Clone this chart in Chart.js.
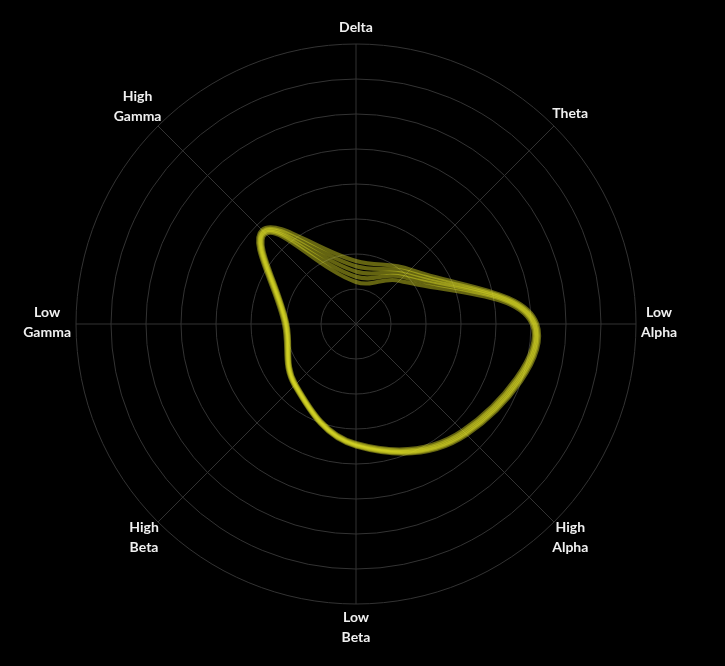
<!DOCTYPE html>
<html>
<head>
<meta charset="utf-8">
<script src="https://cdn.jsdelivr.net/npm/chart.js@4"></script>
<style>
  html, body { margin: 0; padding: 0; background: #000; }
  #wrap { width: 725px; height: 666px; }
</style>
</head>
<body>
<div id="wrap"><canvas id="c" width="725" height="666"></canvas></div>
<script>
const categories = [["Delta"], ["Theta"], ["Low", "Alpha"], ["High", "Alpha"], ["Low", "Beta"], ["High", "Beta"], ["Low", "Gamma"], ["High", "Gamma"]];

const series1 = [18.0, 22.0, 51.8, 44.8, 35.0, 25.0, 20.6, 38.0];
const series2 = [16.5, 21.0, 51.4, 44.4, 34.8, 24.8, 20.3, 37.6];
const series3 = [15.0, 20.0, 51.0, 44.0, 34.6, 24.6, 20.0, 37.2];
const series4 = [13.5, 19.0, 50.6, 43.5, 34.3, 24.4, 19.8, 36.8];
const series5 = [12.0, 17.5, 50.2, 43.0, 34.0, 24.2, 19.6, 36.4];

const scaleMax = 80;
const scaleStep = 10;

const allSeries = [series1, series2, series3, series4, series5];

const datasets = allSeries.map(function (s, i) {
  return {
    label: 'Reading ' + (i + 1),
    data: s,
    borderColor: 'rgba(222, 222, 38, 0.45)',
    backgroundColor: 'rgba(0,0,0,0)',
    borderWidth: 4,
    fill: false,
    tension: 0.4,
    pointRadius: 0,
    pointHoverRadius: 0
  };
});

// Draws the axis labels with every line centred (the library right/left-aligns multi-line labels).
const centredPointLabels = {
  id: 'centredPointLabels',
  afterDraw(chart) {
    const scale = chart.scales.r;
    const ctx = chart.ctx;
    const labels = chart.data.labels;
    const fontSize = 14;
    const lineH = 20;
    const gap = 5;
    const baselineShift = -2;
    ctx.save();
    ctx.font = 'bold ' + fontSize + 'px Lato';
    ctx.fillStyle = '#f0f0f0';
    ctx.textAlign = 'center';
    ctx.textBaseline = 'middle';
    labels.forEach(function (lines, i) {
      const angle = scale.getIndexAngle(i) - Math.PI / 2;
      const w = Math.max.apply(null, lines.map(function (t) { return ctx.measureText(t).width; }));
      const h = lines.length * lineH;
      const p = scale.getPointPosition(i, scale.drawingArea + gap);
      const cx = p.x + Math.cos(angle) * w / 2;
      const cy = p.y + Math.sin(angle) * h / 2 + baselineShift;
      lines.forEach(function (t, j) {
        ctx.fillText(t, cx, cy - h / 2 + lineH * (j + 0.5));
      });
    });
    ctx.restore();
  }
};

new Chart(document.getElementById('c'), {
  type: 'radar',
  data: { labels: categories, datasets: datasets },
  plugins: [centredPointLabels],
  options: {
    responsive: false,
    animation: false,
    layout: { padding: { top: 44, bottom: 62, left: 0, right: 13 } },
    plugins: { legend: { display: false }, tooltip: { enabled: false } },
    scales: {
      r: {
        min: 0,
        max: scaleMax,
        ticks: { display: false, stepSize: scaleStep },
        grid: { circular: true, color: '#333333', lineWidth: 1 },
        angleLines: { color: '#333333', lineWidth: 1 },
        pointLabels: { display: false }
      }
    }
  }
});
</script>
</body>
</html>
